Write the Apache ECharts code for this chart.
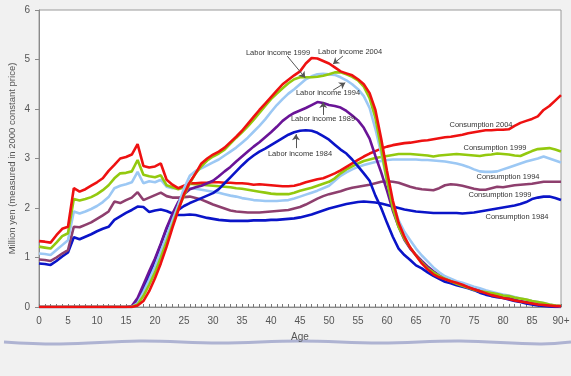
<!DOCTYPE html>
<html>
<head>
<meta charset="utf-8">
<script src="https://cdn.jsdelivr.net/npm/echarts@6/dist/echarts.min.js"></script>
<style>
  html, body { margin: 0; padding: 0; background: #f1f1f1; }
  #chart { width: 571px; height: 376px; }
</style>
</head>
<body>
<div id="chart"></div>
<script>
// ages 0 .. 90+ (last point is 90 and over)
const ages = [0,1,2,3,4,5,6,7,8,9,10,11,12,13,14,15,16,17,18,19,20,21,22,23,24,25,26,27,28,29,30,
  31,32,33,34,35,36,37,38,39,40,41,42,43,44,45,46,47,48,49,50,51,52,53,54,55,56,57,58,59,60,
  61,62,63,64,65,66,67,68,69,70,71,72,73,74,75,76,77,78,79,80,81,82,83,84,85,86,87,88,89,90]

// consumption, million yen
const consumption1984 = [0.88,0.87,0.85,0.93,1.02,1.10,1.41,1.37,1.42,1.47,1.53,1.58,1.62,1.76,1.83,1.90,1.96,2.03,2.02,1.92,1.95,1.97,1.94,1.89,1.86,1.86,
  1.87,1.86,1.83,1.80,1.78,1.76,1.75,1.74,1.74,1.74,1.74,1.75,1.75,1.75,1.76,1.76,1.77,1.78,1.79,1.81,1.84,1.87,1.91,1.95,1.99,
  2.02,2.05,2.08,2.10,2.12,2.13,2.12,2.11,2.09,2.06,2.03,2.00,1.97,1.95,1.93,1.92,1.91,1.90,1.90,1.90,
  1.90,1.90,1.89,1.90,1.91,1.93,1.95,1.97,1.99,2.01,2.03,2.05,2.08,2.12,2.18,2.21,2.23,2.23,2.20,2.16]
const consumption1989 = [0.96,0.95,0.93,1.00,1.08,1.15,1.62,1.61,1.66,1.71,1.78,1.85,1.93,2.13,2.10,2.16,2.21,2.32,2.16,2.21,2.26,2.31,2.24,2.21,2.21,2.22,
  2.23,2.20,2.17,2.12,2.07,2.03,1.99,1.95,1.93,1.92,1.91,1.91,1.91,1.92,1.93,1.94,1.95,1.96,1.99,2.02,2.07,2.13,2.19,2.24,2.28,
  2.31,2.34,2.38,2.41,2.43,2.45,2.47,2.50,2.53,2.54,2.53,2.51,2.47,2.43,2.40,2.38,2.37,2.36,2.40,2.46,
  2.48,2.47,2.45,2.42,2.39,2.37,2.37,2.40,2.43,2.42,2.44,2.46,2.47,2.48,2.49,2.51,2.53,2.53,2.53,2.53]
const consumption1994 = [1.08,1.07,1.05,1.15,1.25,1.35,1.93,1.89,1.93,1.98,2.04,2.12,2.22,2.40,2.45,2.48,2.52,2.73,2.50,2.54,2.52,2.57,2.43,2.40,2.40,2.41,
  2.40,2.39,2.37,2.35,2.33,2.31,2.28,2.25,2.23,2.20,2.18,2.16,2.15,2.14,2.14,2.14,2.15,2.16,2.19,2.23,2.27,2.31,2.35,2.40,2.45,
  2.55,2.65,2.72,2.78,2.83,2.87,2.90,2.93,2.95,2.97,2.98,2.98,2.98,2.98,2.98,2.97,2.97,2.96,2.95,2.94,
  2.92,2.90,2.87,2.83,2.78,2.74,2.73,2.73,2.74,2.78,2.82,2.86,2.90,2.94,2.97,3.00,3.04,3.00,2.96,2.92]
const consumption1999 = [1.22,1.20,1.18,1.30,1.43,1.49,2.18,2.15,2.18,2.22,2.28,2.36,2.46,2.60,2.70,2.71,2.74,2.97,2.67,2.64,2.62,2.66,2.46,2.42,2.38,2.42,
  2.49,2.48,2.47,2.46,2.45,2.44,2.43,2.42,2.40,2.39,2.37,2.35,2.33,2.31,2.29,2.28,2.28,2.28,2.31,2.35,2.38,2.41,2.45,2.49,2.53,
  2.60,2.70,2.78,2.84,2.90,2.95,2.98,3.01,3.03,3.05,3.07,3.09,3.09,3.09,3.08,3.07,3.06,3.04,3.06,3.07,
  3.08,3.09,3.08,3.07,3.06,3.05,3.07,3.08,3.10,3.09,3.08,3.06,3.05,3.10,3.15,3.19,3.20,3.21,3.18,3.14]
const consumption2004 = [1.33,1.32,1.30,1.45,1.58,1.62,2.40,2.33,2.38,2.45,2.52,2.60,2.75,2.87,3.00,3.03,3.08,3.29,2.85,2.82,2.84,2.90,2.57,2.47,2.40,2.45,2.50,
  2.50,2.51,2.51,2.52,2.52,2.51,2.51,2.50,2.50,2.49,2.47,2.48,2.47,2.46,2.45,2.44,2.44,2.45,2.48,2.52,2.55,2.58,2.60,2.65,
  2.70,2.76,2.83,2.90,2.97,3.04,3.10,3.15,3.20,3.24,3.27,3.29,3.31,3.32,3.34,3.36,3.37,3.39,3.41,3.43,3.44,3.46,
  3.48,3.51,3.53,3.55,3.57,3.57,3.58,3.58,3.59,3.66,3.72,3.76,3.80,3.85,3.98,4.06,4.17,4.28]

// labor income, million yen
const labor1984 = [0,0,0,0,0,0,0,0,0,0,0,0,0,0,0,0,0,
  0.10,0.36,0.64,0.94,1.26,1.58,1.82,1.96,2.04,2.10,2.15,2.20,
  2.25,2.30,2.38,2.50,2.62,2.74,2.86,2.97,3.06,3.14,3.20,3.27,3.34,3.41,3.48,3.53,3.56,3.57,3.56,3.52,3.45,3.38,
  3.28,3.18,3.10,2.98,2.84,2.70,2.55,2.25,2.00,1.70,1.42,1.18,1.05,0.95,0.84,0.78,0.70,0.63,0.57,0.51,
  0.48,0.44,0.41,0.38,0.34,0.29,0.25,0.22,0.20,0.18,0.15,0.12,0.10,0.07,0.05,0.03,0.02,0.01,0.00,0.00]
const labor1989 = [0,0,0,0,0,0,0,0,0,0,0,0,0,0,0,0,0.02,
  0.18,0.45,0.72,0.98,1.28,1.60,1.88,2.12,2.28,2.38,2.42,2.45,
  2.50,2.55,2.64,2.74,2.83,2.94,3.04,3.14,3.24,3.33,3.43,3.53,3.64,3.76,3.85,3.92,3.97,4.02,4.08,4.14,4.12,4.08,
  4.06,4.03,3.96,3.87,3.77,3.62,3.40,3.05,2.72,2.35,1.95,1.62,1.36,1.18,1.05,0.93,0.82,0.72,0.64,0.58,
  0.53,0.49,0.45,0.42,0.38,0.35,0.32,0.28,0.24,0.21,0.18,0.15,0.12,0.10,0.08,0.06,0.04,0.02,0.01,0.00]
const labor1994 = [0,0,0,0,0,0,0,0,0,0,0,0,0,0,0,0,0,
  0.08,0.30,0.55,0.82,1.12,1.43,1.75,2.05,2.40,2.65,2.75,2.80,
  2.86,2.92,2.98,3.06,3.14,3.22,3.32,3.42,3.54,3.66,3.79,3.94,4.08,4.20,4.31,4.40,4.50,4.60,4.66,4.70,4.71,4.70,
  4.69,4.64,4.58,4.50,4.40,4.26,4.02,3.60,3.10,2.55,2.10,1.75,1.52,1.35,1.18,1.04,0.92,0.80,0.70,0.62,
  0.57,0.52,0.49,0.45,0.41,0.38,0.34,0.31,0.28,0.25,0.23,0.20,0.17,0.15,0.12,0.10,0.08,0.05,0.03,0.02]
const labor1999 = [0,0,0,0,0,0,0,0,0,0,0,0,0,0,0,0,0,
  0.05,0.22,0.45,0.70,1.00,1.32,1.65,1.98,2.25,2.50,2.70,2.84,
  2.96,3.04,3.10,3.18,3.30,3.42,3.53,3.65,3.78,3.92,4.06,4.20,4.31,4.42,4.52,4.60,4.64,4.64,4.64,4.65,4.67,4.70,
  4.74,4.74,4.70,4.65,4.58,4.45,4.22,3.82,3.20,2.55,2.00,1.62,1.38,1.20,1.04,0.90,0.78,0.70,0.63,0.57,
  0.52,0.47,0.43,0.39,0.35,0.32,0.30,0.28,0.26,0.23,0.22,0.19,0.17,0.15,0.12,0.10,0.08,0.05,0.03,0.02]
const labor2004 = [0,0,0,0,0,0,0,0,0,0,0,0,0,0,0,0,0,
  0.03,0.12,0.32,0.58,0.88,1.22,1.60,1.95,2.28,2.52,2.70,2.90,
  3.00,3.08,3.14,3.22,3.33,3.44,3.56,3.70,3.84,3.98,4.11,4.24,4.37,4.50,4.59,4.68,4.76,4.92,5.03,5.02,4.97,4.92,
  4.84,4.76,4.72,4.68,4.60,4.50,4.32,3.98,3.40,2.75,2.15,1.70,1.42,1.20,1.04,0.88,0.76,0.66,0.60,0.56,
  0.52,0.49,0.45,0.40,0.36,0.32,0.28,0.24,0.21,0.18,0.16,0.13,0.11,0.09,0.07,0.05,0.04,0.03,0.02,0.02]

const yTicks = [0, 1, 2, 3, 4, 5, 6]

// arrows from label to curve, [age, value] pairs
const arrows = [
  [[42.8, 5.07], [45.9, 4.63]],
  [[52.4, 5.07], [50.7, 4.91]],
  [[50.7, 4.38], [52.8, 4.53]],
  [[49.0, 3.88], [49.0, 4.14]],
  [[44.3, 3.21], [44.3, 3.49]]
]

const FONT = '"Liberation Sans", Arial, sans-serif'

const pairs = vals => ages.map((a, i) => [a, vals[i]])

const makeLine = (name, vals, color, extra) => Object.assign({
  name,
  type: 'line',
  data: pairs(vals),
  symbol: 'none',
  lineStyle: { color, width: 2.6 },
  itemStyle: { color },
  z: 3
}, extra || {})

const chart = echarts.init(document.getElementById('chart'), null, { renderer: 'canvas' })

const note = (text, x, y) => ({
  type: 'text',
  x, y,
  z: 100,
  style: { text, fill: '#333', font: '7.5px ' + FONT, align: 'center', verticalAlign: 'middle' }
})

const option = {
  backgroundColor: '#f1f1f1',
  animation: false,
  textStyle: { fontFamily: FONT },
  grid: {
    left: 39, right: 10, top: 10, bottom: 69,
    outerBoundsMode: 'none',
    show: true,
    backgroundColor: '#ffffff',
    borderColor: '#9a9a9a',
    borderWidth: 1
  },
  xAxis: {
    type: 'value',
    min: 0,
    max: 90,
    interval: 5,
    name: 'Age',
    nameLocation: 'middle',
    nameGap: 25,
    nameMoveOverlap: false,
    nameTextStyle: { fontSize: 10, color: '#555' },
    axisLine: { lineStyle: { color: '#8a8a8a' } },
    axisTick: { inside: true, length: 3, lineStyle: { color: '#777' } },
    minorTick: { show: true, splitNumber: 5, length: 3, lineStyle: { color: '#777' } },
    axisLabel: {
      fontSize: 10,
      color: '#555',
      margin: 9,
      formatter: v => (v === 90 ? '90+' : String(v))
    },
    splitLine: { show: false }
  },
  yAxis: {
    type: 'value',
    min: yTicks[0],
    max: yTicks[yTicks.length - 1],
    interval: 1,
    name: 'Million yen (measured in 2000 constant price)',
    nameLocation: 'middle',
    nameGap: 22,
    nameMoveOverlap: false,
    nameTextStyle: { fontSize: 9.5, color: '#555' },
    axisLine: { show: true, lineStyle: { color: '#8a8a8a' } },
    axisTick: { show: true, length: 4, lineStyle: { color: '#8a8a8a' } },
    axisLabel: { fontSize: 10, color: '#555', margin: 9 },
    splitLine: { show: false }
  },
  series: [
    makeLine('Consumption 1984', consumption1984, '#0a14c8'),
    makeLine('Consumption 1989', consumption1989, '#8e3f6e'),
    makeLine('Consumption 1994', consumption1994, '#9cc8f4'),
    makeLine('Consumption 1999', consumption1999, '#93c90e'),
    makeLine('Consumption 2004', consumption2004, '#ee1111'),
    makeLine('Labor income 1984', labor1984, '#0a14c8', {
      markLine: {
        silent: true,
        symbol: ['none', 'arrow'],
        symbolSize: 6,
        label: { show: false },
        lineStyle: { color: '#555', width: 1, type: 'solid' },
        data: arrows.map(a => [{ coord: a[0] }, { coord: a[1] }])
      }
    }),
    makeLine('Labor income 1989', labor1989, '#6a1497'),
    makeLine('Labor income 1994', labor1994, '#9cc8f4'),
    makeLine('Labor income 1999', labor1999, '#93c90e'),
    makeLine('Labor income 2004', labor2004, '#ee1111')
  ],
  graphic: [
    {
      type: 'polyline',
      silent: true,
      shape: { points: [[4, 342], [60, 344], [140, 341], [220, 343], [300, 341], [380, 343], [460, 341], [540, 344], [571, 342]], smooth: 0.4 },
      style: { stroke: '#aeb3d2', lineWidth: 3, fill: null }
    },
    note('Labor income 1999', 278, 53),
    note('Labor income 2004', 350, 52),
    note('Labor income 1994', 328, 93),
    note('Labor income 1989', 323, 119),
    note('Labor income 1984', 300, 154),
    note('Consumption 2004', 481, 125),
    note('Consumption 1999', 495, 148),
    note('Consumption 1994', 508, 177),
    note('Consumption 1999', 500, 195),
    note('Consumption 1984', 517, 217)
  ]
}

chart.setOption(option)
window.addEventListener('resize', () => chart.resize())
</script>
</body>
</html>
